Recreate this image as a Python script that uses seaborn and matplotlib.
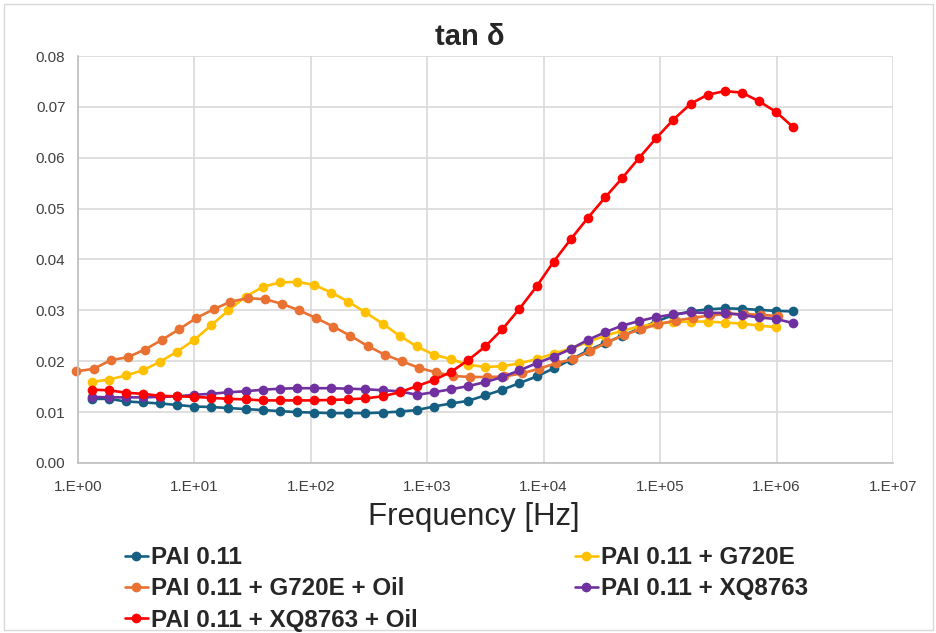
import pandas as pd
import matplotlib.pyplot as plt
import matplotlib.ticker as mticker
from matplotlib.patches import Rectangle
import seaborn as sns

# Data
freq = [1.31, 1.84, 2.58, 3.61, 5.07, 7.11, 9.98, 14.0, 19.6, 27.5, 38.6, 54.2, 76.0, 107,
        150, 210, 294, 413, 579, 813, 1140, 1600, 2240, 3150, 4420, 6190, 8690, 12200,
        17100, 24000, 33700, 47200, 66200, 92900, 130000, 183000, 256000, 360000, 505000,
        708000, 993000, 1390000]
freq_oil = [0.96, 1.36, 1.91, 2.68, 3.76, 5.27, 7.40, 10.4, 14.6, 20.4, 28.6, 40.2, 56.4, 79.1,
            111, 156, 219, 307, 430, 604, 847, 1190, 1670, 2340, 3280, 4600, 6460, 9060,
            12700, 17800, 25000, 35100, 49200, 69000, 96800, 136000, 190000, 267000, 374000,
            525000, 736000, 1030000]

pai = [0.0126, 0.0126, 0.0121, 0.0119, 0.0117, 0.0114, 0.0111, 0.0110, 0.0108, 0.0106, 0.0104,
       0.0102, 0.0100, 0.0099, 0.0098, 0.0098, 0.0098, 0.0099, 0.0101, 0.0104, 0.0111, 0.0117,
       0.0122, 0.0133, 0.0144, 0.0157, 0.0170, 0.0186, 0.0203, 0.0221, 0.0236, 0.0250, 0.0264,
       0.0278, 0.0291, 0.0298, 0.0302, 0.0304, 0.0303, 0.0301, 0.0299, 0.0298]
g720e = [0.0159, 0.0164, 0.0172, 0.0182, 0.0199, 0.0219, 0.0242, 0.0271, 0.0300, 0.0327, 0.0346,
         0.0355, 0.0356, 0.0350, 0.0335, 0.0317, 0.0296, 0.0274, 0.0250, 0.0229, 0.0213, 0.0204,
         0.0193, 0.0189, 0.0190, 0.0196, 0.0204, 0.0215, 0.0225, 0.0238, 0.0250, 0.0260, 0.0268,
         0.0274, 0.0277, 0.0278, 0.0278, 0.0276, 0.0274, 0.0270, 0.0267]
g720e_oil = [0.0180, 0.0185, 0.0202, 0.0208, 0.0223, 0.0242, 0.0263, 0.0285, 0.0302, 0.0317,
             0.0324, 0.0322, 0.0313, 0.0300, 0.0285, 0.0268, 0.0250, 0.0230, 0.0213, 0.0200,
             0.0187, 0.0178, 0.0171, 0.0169, 0.0169, 0.0170, 0.0176, 0.0185, 0.0196, 0.0204,
             0.0220, 0.0237, 0.0252, 0.0263, 0.0273, 0.0280, 0.0285, 0.0290, 0.0293, 0.0293,
             0.0291, 0.0289]
xq8763 = [0.0130, 0.0129, 0.0129, 0.0129, 0.0130, 0.0131, 0.0134, 0.0136, 0.0139, 0.0141, 0.0144,
          0.0146, 0.0147, 0.0147, 0.0147, 0.0146, 0.0145, 0.0143, 0.0141, 0.0134, 0.0139, 0.0145,
          0.0151, 0.0159, 0.0169, 0.0182, 0.0196, 0.0209, 0.0224, 0.0242, 0.0257, 0.0270, 0.0279,
          0.0287, 0.0292, 0.0296, 0.0295, 0.0295, 0.0291, 0.0286, 0.0283, 0.0275]
xq8763_oil = [0.0144, 0.0143, 0.0138, 0.0136, 0.0132, 0.0131, 0.0130, 0.0128, 0.0126, 0.0125,
              0.0123, 0.0123, 0.0123, 0.0123, 0.0124, 0.0125, 0.0127, 0.0131, 0.0139, 0.0151,
              0.0163, 0.0179, 0.0202, 0.0229, 0.0263, 0.0303, 0.0347, 0.0396, 0.0440, 0.0482,
              0.0522, 0.0560, 0.0600, 0.0639, 0.0675, 0.0706, 0.0724, 0.0731, 0.0728, 0.0711,
              0.0690, 0.0660]

labels = ['PAI 0.11', 'PAI 0.11 + G720E', 'PAI 0.11 + G720E + Oil',
          'PAI 0.11 + XQ8763', 'PAI 0.11 + XQ8763 + Oil']
colors = ['#156082', '#FFC000', '#E97132', '#7030A0', '#FF0000']
series = [(freq, pai), (freq[:len(g720e)], g720e), (freq_oil, g720e_oil),
          (freq, xq8763), (freq, xq8763_oil)]
xticks = [1e0, 1e1, 1e2, 1e3, 1e4, 1e5, 1e6, 1e7]
xticklabels = ['1.E+00', '1.E+01', '1.E+02', '1.E+03', '1.E+04', '1.E+05', '1.E+06', '1.E+07']

sns.set_style("white")
plt.rcParams['font.family'] = ['Liberation Sans', 'DejaVu Sans']

fig = plt.figure(figsize=(9.37, 6.33), dpi=100)
ax = fig.add_axes([0.0832, 0.2686, 0.8698, 0.6429])

for lab, col, (x, y) in zip(labels, colors, series):
    df = pd.DataFrame({'f': x, 'tan': y})
    sns.lineplot(data=df, x='f', y='tan', ax=ax, color=col, marker='o', markersize=7,
                 markeredgewidth=0, linewidth=1.9, estimator=None, sort=False,
                 label=lab, clip_on=False)

ax.set_xscale('log')
ax.set_xlim(1, 1e7)
ax.set_ylim(0, 0.08)
ax.set_xticks(xticks)
ax.set_xticklabels(xticklabels)
ax.xaxis.set_minor_locator(mticker.NullLocator())
ax.yaxis.set_major_locator(mticker.MultipleLocator(0.01))
ax.yaxis.set_major_formatter(mticker.FormatStrFormatter('%.2f'))
ax.tick_params(axis='both', labelsize=11, length=0, colors='#404040')
ax.tick_params(axis='x', pad=12)
ax.tick_params(axis='y', pad=9)
ax.grid(True, color='#D9D9D9', linewidth=1.2)
ax.set_axisbelow(True)
for s in ['top', 'right']:
    ax.spines[s].set_visible(False)
for s in ['left', 'bottom']:
    ax.spines[s].set_color('#BFBFBF')
    ax.spines[s].set_linewidth(1.2)

ax.set_xlabel('Frequency [Hz]', fontsize=22.5)
ax.xaxis.set_label_coords(0.486, -0.097)
ax.set_ylabel('')
fig.text(470 / 937, 1 - 37 / 633, 'tan δ', fontsize=21, fontweight='bold',
         ha='center', va='center')

# legend order as in the reference (column-wise fill)
h, l = ax.get_legend_handles_labels()
order = [0, 2, 4, 1, 3]
ax.get_legend().remove()
fig.legend([h[i] for i in order], [l[i] for i in order], ncol=2, frameon=False,
           loc='upper left', bbox_to_anchor=(0.1334, 0.1374), borderpad=0, borderaxespad=0,
           handlelength=0.95, handletextpad=0.12, columnspacing=6.5, labelspacing=0.35,
           prop={'weight': 'bold', 'size': 17.4})

fig.patches.append(Rectangle((0.004, 0.004), 0.992, 0.99, transform=fig.transFigure,
                             fill=False, edgecolor='#D9D9D9', linewidth=1))

fig.savefig('out.png', dpi=100)
